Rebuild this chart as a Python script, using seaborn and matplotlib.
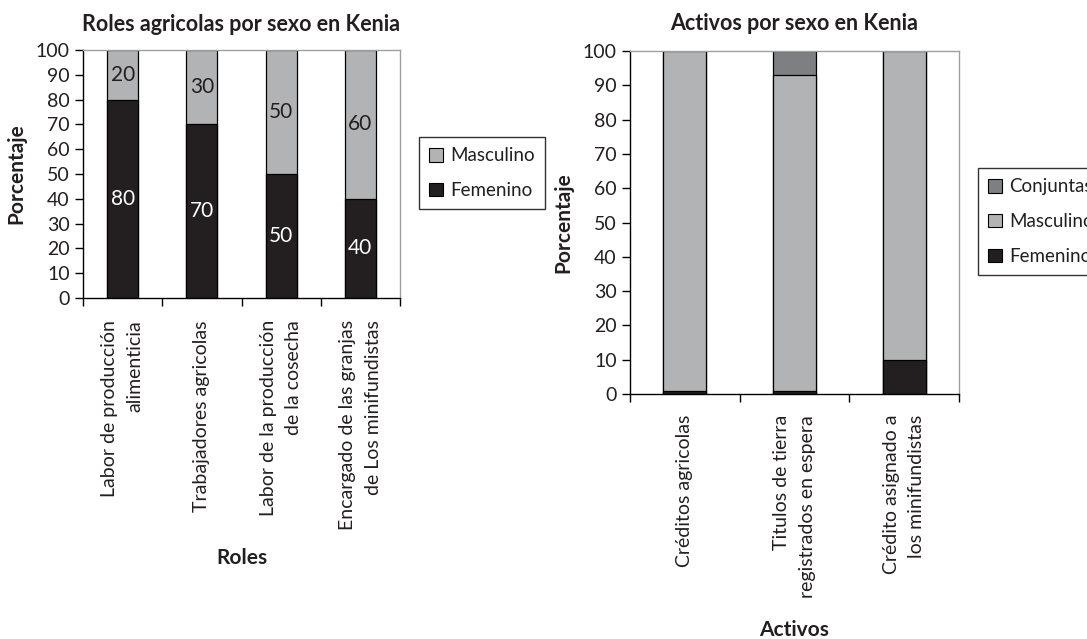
import matplotlib
matplotlib.use("Agg")
import matplotlib.pyplot as plt
import matplotlib.patches as mpatches
import seaborn as sns
import pandas as pd
import numpy as np

# ---- data ----
roles = ["Labor de producción\nalimenticia", "Trabajadores agricolas",
         "Labor de la producción\nde la cosecha", "Encargado de las granjas\nde Los minifundistas"]
roles_fem = [80, 70, 50, 40]
roles_masc = [20, 30, 50, 60]

activos = ["Créditos agricolas", "Titulos de tierra\nregistrados en espera",
           "Crédito asignado a\nlos minifundistas"]
act_fem = [1, 1, 10]
act_masc = [99, 92, 90]
act_conj = [0, 7, 0]

C_FEM = "#231f20"
C_MASC = "#b2b3b5"
C_CONJ = "#7e7f82"
TXT = "#231f20"
GRID = "#a0a0a0"

sns.set_theme(style="white")
plt.rcParams["font.family"] = ["Lato", "DejaVu Sans"]
plt.rcParams["text.color"] = TXT
plt.rcParams["axes.labelcolor"] = TXT
plt.rcParams["xtick.color"] = TXT
plt.rcParams["ytick.color"] = TXT

W, H = 1087, 639
fig = plt.figure(figsize=(W / 100, H / 100), dpi=100)


def fr(x0, y0, x1, y1):
    return [x0 / W, 1 - y1 / H, (x1 - x0) / W, (y1 - y0) / H]


ax1 = fig.add_axes(fr(83, 50, 400, 298))
ax2 = fig.add_axes(fr(630, 51, 959, 394))

BAR_W = 0.39
EDGE = dict(edgecolor="black", linewidth=0.9)


def style_axes(ax, cats, pad):
    ncat = len(cats)
    ax.set_ylim(0, 100)
    ax.set_xlim(-0.5, ncat - 0.5)
    ax.set_yticks(range(0, 101, 10))
    ax.tick_params(axis="y", which="major", direction="out", length=6, width=1,
                   color="black", pad=3.5, labelsize=14, left=True)
    ax.set_xticks(range(ncat), cats, rotation=90, multialignment="right",
                  linespacing=1.6, fontsize=14)
    ax.set_xticks(np.arange(-0.5, ncat, 1.0), minor=True)
    ax.tick_params(axis="x", which="minor", direction="out", length=5.5, width=1,
                   color="black", bottom=True)
    ax.tick_params(axis="x", which="major", length=0, pad=pad)
    for s in ("left", "bottom"):
        ax.spines[s].set_color("black")
        ax.spines[s].set_linewidth(1)
    for s in ("top", "right"):
        ax.spines[s].set_color(GRID)
        ax.spines[s].set_linewidth(1)
        ax.spines[s].set_visible(True)
    ax.set_facecolor("white")


def make_legend(handles, x, y):
    leg = fig.legend(handles=handles, loc="upper left", bbox_to_anchor=(x / W, 1 - y / H),
                     fontsize=13.5, frameon=True, fancybox=False, borderaxespad=0,
                     handlelength=0.75, handleheight=0.75, handletextpad=0.35,
                     labelspacing=0.95, borderpad=0.55)
    leg.get_frame().set_edgecolor("black")
    leg.get_frame().set_linewidth(1)
    return leg


# ---- left chart ----
df1 = pd.DataFrame({"rol": roles, "fem": roles_fem, "masc": roles_masc})
df1["tot"] = df1["fem"] + df1["masc"]
sns.barplot(data=df1, x="rol", y="tot", order=roles, color=C_MASC, width=BAR_W,
            saturation=1, ax=ax1, **EDGE)
sns.barplot(data=df1, x="rol", y="fem", order=roles, color=C_FEM, width=BAR_W,
            saturation=1, ax=ax1, **EDGE)
for i, (f, m) in enumerate(zip(roles_fem, roles_masc)):
    ax1.text(i, f / 2, str(f), ha="center", va="center", color="white", fontsize=15)
    ax1.text(i, f + m / 2, str(m), ha="center", va="center", color=TXT, fontsize=15)
style_axes(ax1, roles, 16)
ax1.set_title("Roles agricolas por sexo en Kenia", fontsize=15.5, fontweight="bold", pad=14)
ax1.set_ylabel("Porcentaje", fontsize=15, fontweight="bold", labelpad=7)
ax1.set_xlabel("Roles", fontsize=15, fontweight="bold", labelpad=13)

make_legend([mpatches.Patch(facecolor=C_MASC, edgecolor="black", linewidth=0.8, label="Masculino"),
             mpatches.Patch(facecolor=C_FEM, edgecolor="black", linewidth=0.8, label="Femenino")],
            419, 137)

# ---- right chart ----
df2 = pd.DataFrame({"act": activos, "fem": act_fem, "masc": act_masc, "conj": act_conj})
df2["fm"] = df2["fem"] + df2["masc"]
df2["tot"] = df2["fm"] + df2["conj"]
sns.barplot(data=df2, x="act", y="tot", order=activos, color=C_CONJ, width=BAR_W,
            saturation=1, ax=ax2, **EDGE)
sns.barplot(data=df2, x="act", y="fm", order=activos, color=C_MASC, width=BAR_W,
            saturation=1, ax=ax2, **EDGE)
sns.barplot(data=df2, x="act", y="fem", order=activos, color=C_FEM, width=BAR_W,
            saturation=1, ax=ax2, **EDGE)
style_axes(ax2, activos, 15)
ax2.set_title("Activos por sexo en Kenia", fontsize=15.5, fontweight="bold", pad=15)
ax2.set_ylabel("Porcentaje", fontsize=15, fontweight="bold", labelpad=7)
ax2.set_xlabel("Activos", fontsize=15, fontweight="bold", labelpad=16)

make_legend([mpatches.Patch(facecolor=C_CONJ, edgecolor="black", linewidth=0.8, label="Conjuntas"),
             mpatches.Patch(facecolor=C_MASC, edgecolor="black", linewidth=0.8, label="Masculino"),
             mpatches.Patch(facecolor=C_FEM, edgecolor="black", linewidth=0.8, label="Femenino")],
            978, 168)

fig.savefig("out.png", dpi=100, facecolor="white")
